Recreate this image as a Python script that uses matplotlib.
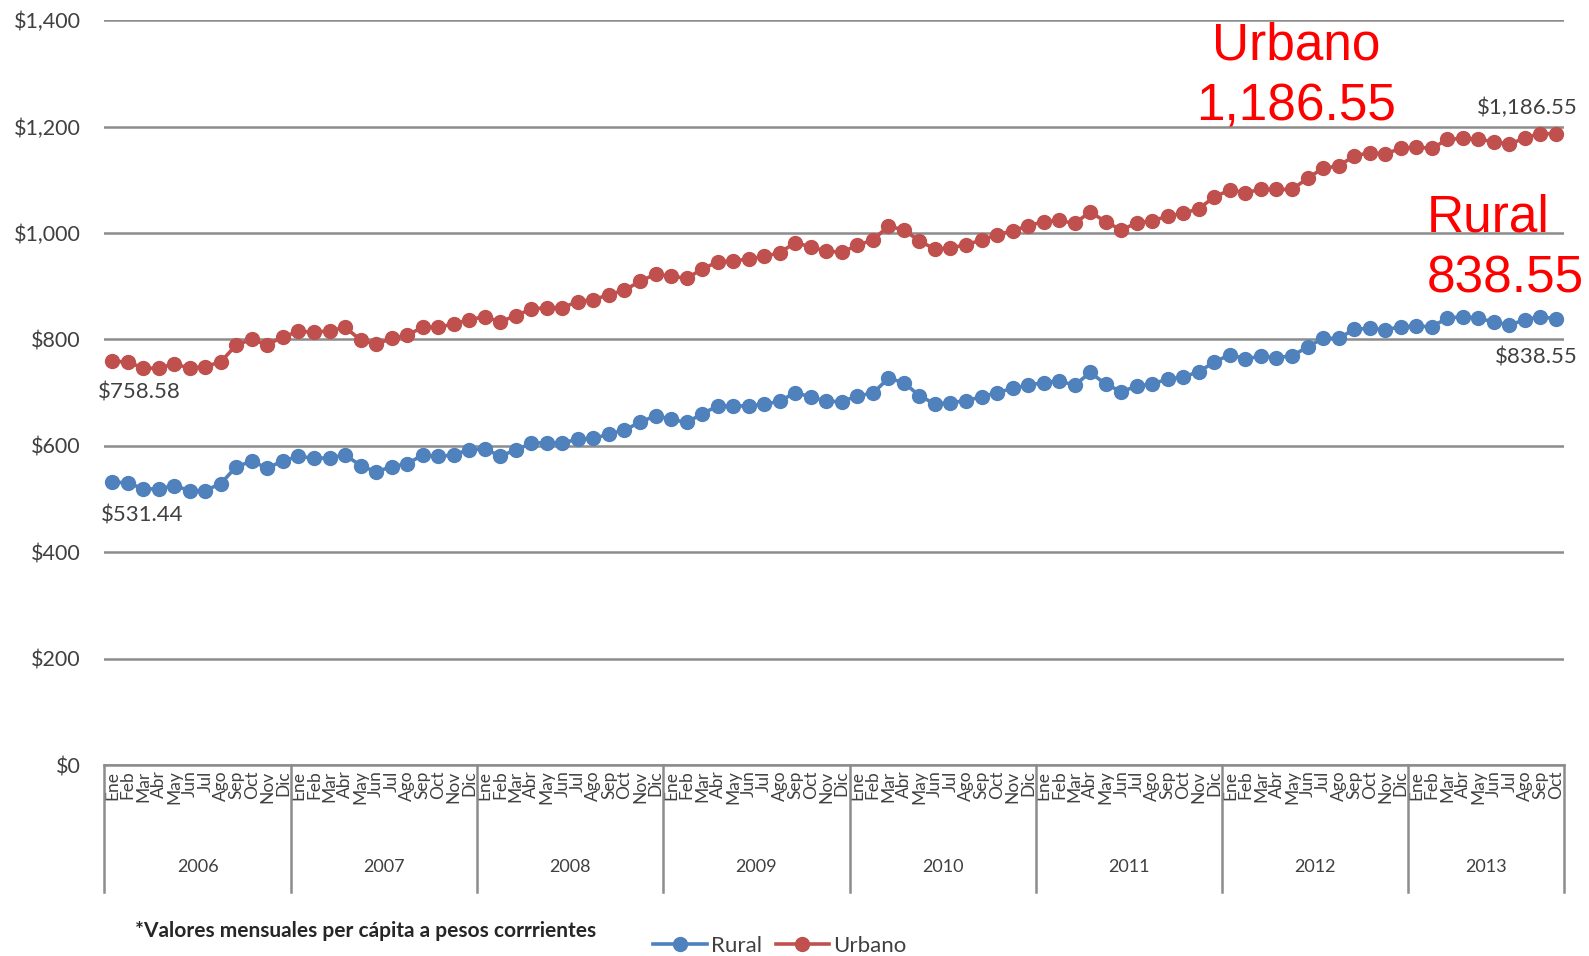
import matplotlib
matplotlib.use("Agg")
import matplotlib.pyplot as plt
from matplotlib.lines import Line2D

plt.rcParams['font.family'] = ['Lato', 'DejaVu Sans']

# monthly per-capita values, Ene 2006 .. Oct 2013
rural = [
    531.44, 531, 519, 519, 525, 516, 516, 529, 561, 571, 558, 572,
    580, 577, 577, 583, 563, 551, 561, 566, 583, 580, 583, 593,
    594, 581, 592, 605, 606, 606, 612, 614, 622, 630, 644, 657,
    650, 644, 660, 675, 675, 675, 678, 684, 700, 692, 684, 683,
    694, 699, 727, 719, 694, 679, 681, 685, 692, 700, 708, 714,
    719, 722, 714, 738, 716, 702, 712, 717, 725, 730, 739, 758,
    771, 764, 768, 766, 769, 786, 802, 802, 819, 821, 818, 824,
    825, 824, 840, 843, 840, 833, 827, 837, 843, 838.55,
]
urbano = [
    758.58, 758, 746, 746, 754, 746, 749, 758, 790, 800, 790, 805,
    815, 814, 816, 823, 799, 791, 802, 808, 823, 823, 829, 837,
    843, 833, 845, 857, 860, 860, 871, 875, 884, 893, 909, 923,
    919, 915, 932, 946, 948, 951, 956, 963, 982, 974, 966, 964,
    977, 987, 1013, 1006, 985, 970, 972, 978, 987, 997, 1004, 1014,
    1021, 1024, 1018, 1040, 1021, 1006, 1019, 1023, 1032, 1037, 1046, 1068,
    1081, 1076, 1082, 1082, 1082, 1103, 1122, 1126, 1145, 1151, 1149, 1159,
    1162, 1159, 1176, 1178, 1176, 1172, 1167, 1179, 1187, 1186.55,
]
meses = ['Ene', 'Feb', 'Mar', 'Abr', 'May', 'Jun', 'Jul', 'Ago', 'Sep', 'Oct', 'Nov', 'Dic']
years = ['2006', '2007', '2008', '2009', '2010', '2011', '2012', '2013']
months_per_year = [12, 12, 12, 12, 12, 12, 12, 10]

month_labels = []
for n in months_per_year:
    month_labels += meses[:n]
x = list(range(len(rural)))

BLUE = '#4F81BD'
RED = '#C0504D'
GRID = '#8C8C8C'
TXT = '#404040'

W, H = 1589, 956
fig = plt.figure(figsize=(W / 100, H / 100), dpi=100)
ax = fig.add_axes([104.4 / W, 1 - 765 / H, 1459.3 / W, 744.7 / H])

ax.plot(x, rural, color=BLUE, lw=2.6, marker='o', ms=10, label='Rural', zorder=3)
ax.plot(x, urbano, color=RED, lw=2.6, marker='o', ms=10, label='Urbano', zorder=3)

ax.set_xlim(-0.5, len(x) - 0.5)
ax.set_ylim(0, 1400)
ax.set_yticks(range(0, 1401, 200))
ax.set_yticklabels([f'${v:,}' for v in range(0, 1401, 200)], fontsize=15.5, color=TXT)
ax.yaxis.grid(True, color=GRID, lw=1.8)
ax.set_axisbelow(True)
for s in ['left', 'right', 'top']:
    ax.spines[s].set_visible(False)
ax.spines['bottom'].set_color(GRID)
ax.spines['bottom'].set_linewidth(1.8)
ax.tick_params(axis='y', length=0, pad=17)
ax.tick_params(axis='x', length=0, pad=4)

ax.set_xticks(x)
ax.set_xticklabels(month_labels, rotation=90, fontsize=12.5, color=TXT, va='top')

# year groups and separators below the axis
trans = ax.get_xaxis_transform()
start = 0
bounds = [-0.5]
for yr, n in zip(years, months_per_year):
    mid = start + (n - 1) / 2
    ax.text(mid, -0.137, yr, transform=trans, ha='center', va='center', fontsize=13, color=TXT)
    start += n
    bounds.append(start - 0.5)
for b in bounds:
    ax.plot([b, b], [0, -0.17], transform=trans, color=GRID, lw=1.8, clip_on=False)

# data labels at first and last points
lab = dict(fontsize=16, color=TXT, va='center', textcoords='offset points')
ax.annotate(f'${urbano[0]:,.2f}', (0, urbano[0]), xytext=(-10, -22), ha='left', **lab)
ax.annotate(f'${rural[0]:,.2f}', (0, rural[0]), xytext=(-8, -24), ha='left', **lab)
ax.annotate(f'${urbano[-1]:,.2f}', (x[-1], urbano[-1]), xytext=(16, 19), ha='right', **lab)
ax.annotate(f'${rural[-1]:,.2f}', (x[-1], rural[-1]), xytext=(16, -28), ha='right', **lab)

# big red call-outs
big = dict(fontsize=37, color='#FF0000', family='Liberation Sans', va='center')
fig.text(1296 / W, 1 - 46 / H, 'Urbano', ha='center', **big)
fig.text(1296 / W, 1 - 107 / H, f'{urbano[-1]:,.2f}', ha='center', **big)
fig.text(1427 / W, 1 - 218 / H, 'Rural', ha='left', **big)
fig.text(1427 / W, 1 - 279 / H, f'{rural[-1]:,.2f}', ha='left', **big)

fig.text(135 / W, 1 - 931 / H, '*Valores mensuales per cápita a pesos corrrientes',
         fontsize=15, fontweight='bold', color='#262626', va='center')

handles = [Line2D([], [], color=BLUE, lw=2.6, marker='o', ms=10),
           Line2D([], [], color=RED, lw=2.6, marker='o', ms=10)]
fig.legend(handles, ['Rural', 'Urbano'], loc='center', bbox_to_anchor=(780 / W, 1 - 946 / H),
           ncol=2, frameon=False, fontsize=16, handlelength=2.4, handletextpad=0.2,
           columnspacing=0.6, labelcolor=TXT)

fig.savefig('out.png', dpi=100)
